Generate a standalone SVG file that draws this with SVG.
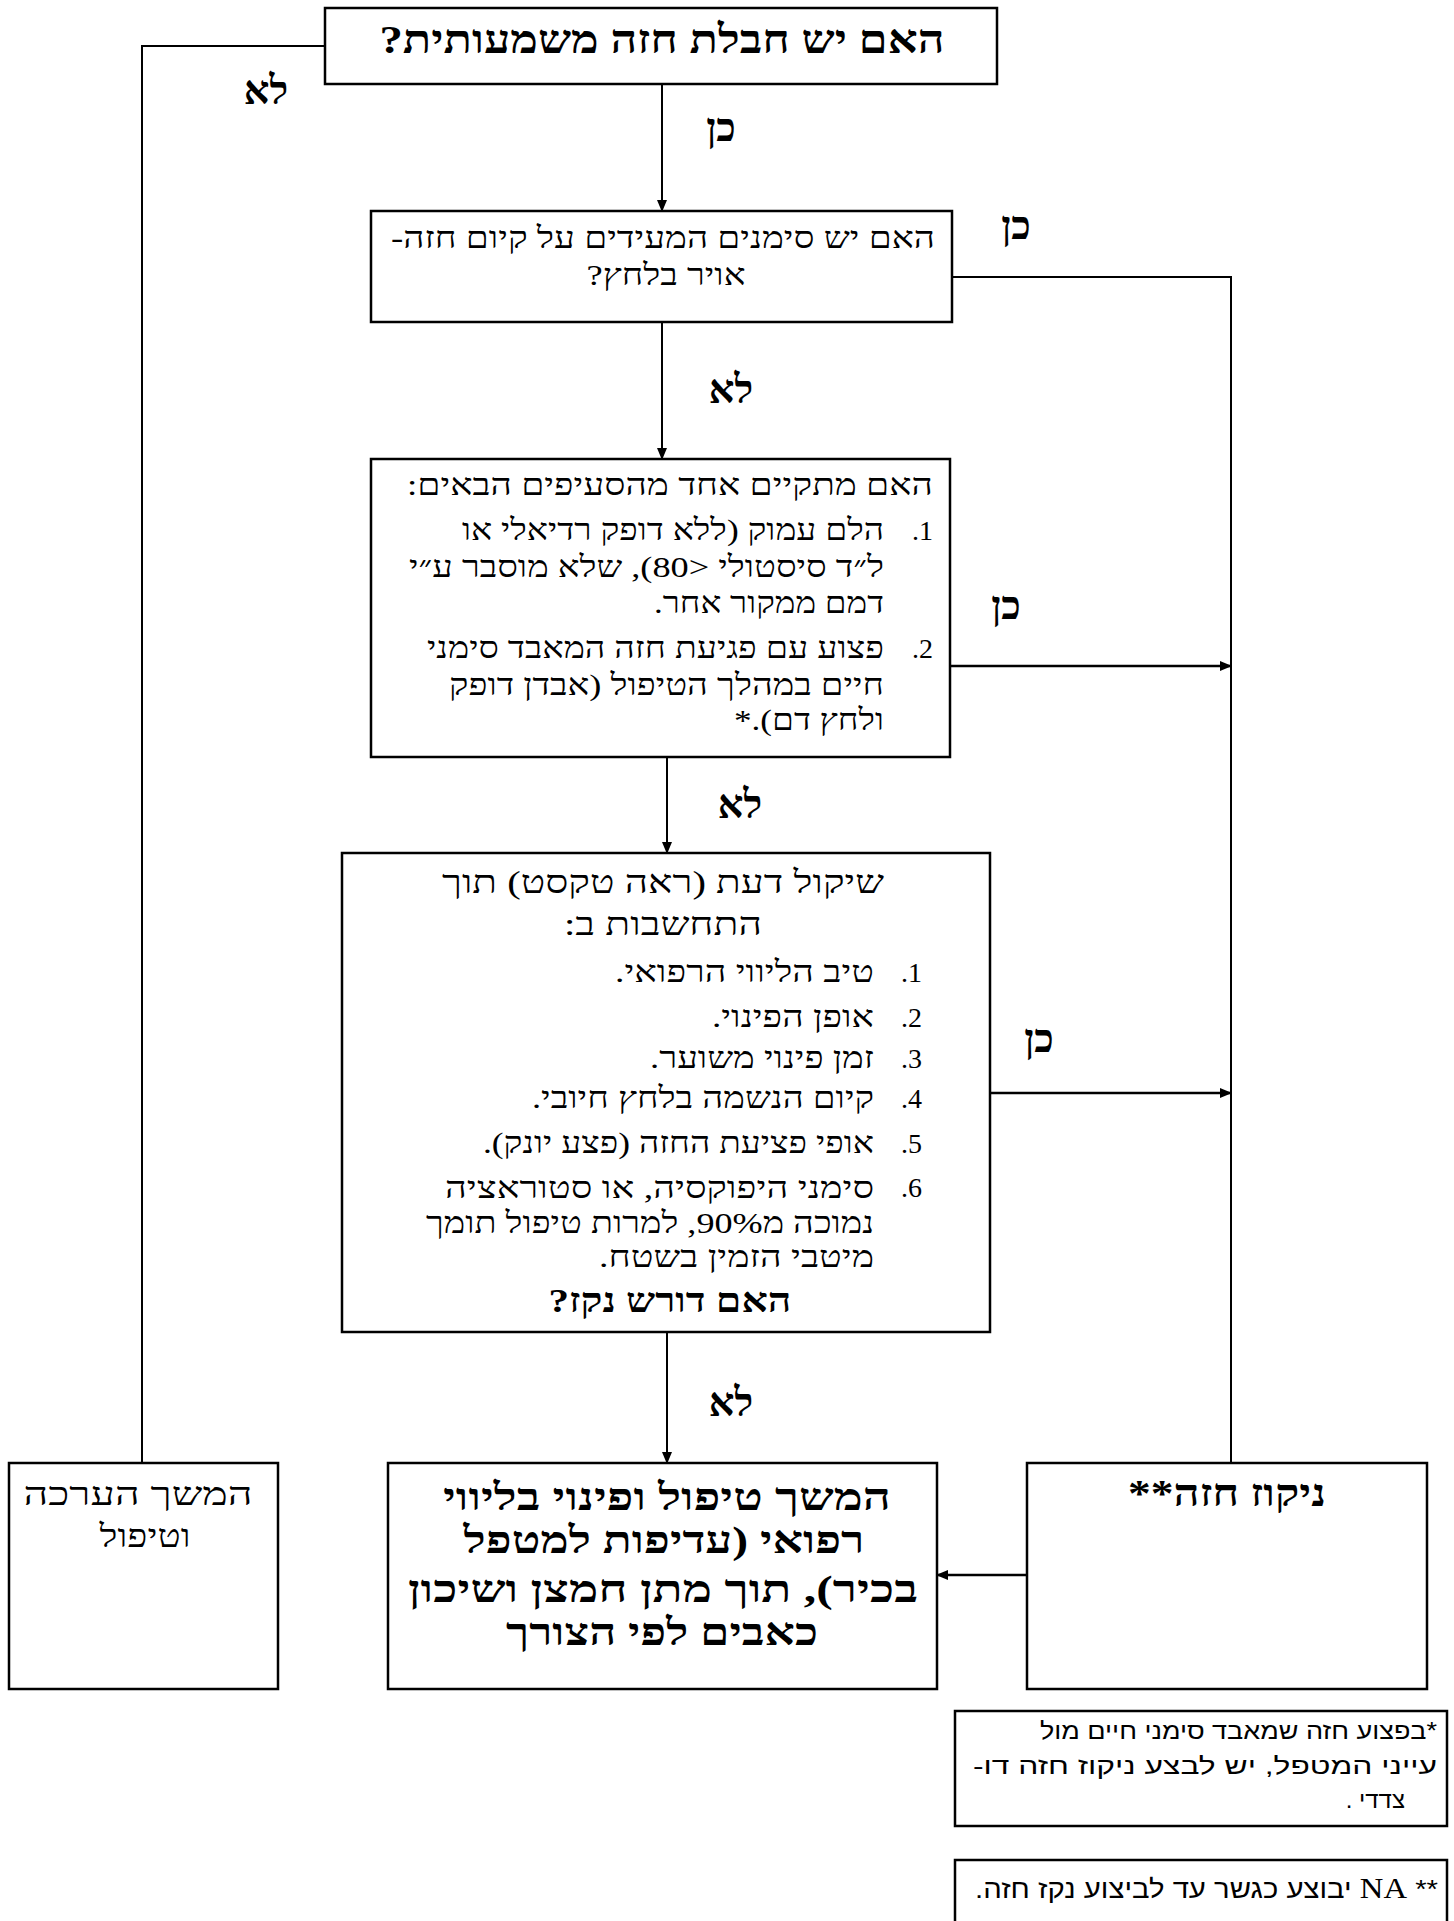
<svg xmlns="http://www.w3.org/2000/svg" width="1454" height="1921" viewBox="0 0 1454 1921">
<style>
.box{fill:#fff;stroke:#000;stroke-width:2.5}
.con{fill:none;stroke:#000;stroke-width:2}
text{fill:#000;direction:rtl}
.r{font-family:"Liberation Serif","DejaVu Serif",serif;font-size:30px}
.b{font-family:"Liberation Serif","DejaVu Serif",serif;font-size:38px;font-weight:bold}
.lb{font-family:"Liberation Serif","DejaVu Serif",serif;font-size:40px;font-weight:bold}
.s{font-family:"Liberation Sans","DejaVu Sans",sans-serif;font-size:24px}
.n{font-family:"Liberation Serif",serif;font-size:28px}
</style>
<defs>
<marker id="ah" markerWidth="12" markerHeight="10" refX="11" refY="5" orient="auto" markerUnits="userSpaceOnUse">
<path d="M0,0 L12,5 L0,10 Z" fill="#000"/>
</marker>
</defs>
<rect width="1454" height="1921" fill="#fff"/>

<g id="connectors">
<path class="con" d="M325,46 H142 V1478" marker-end="url(#ah)"/>
<path class="con" d="M662,84 V211" marker-end="url(#ah)"/>
<path class="con" d="M952,277 H1231 V1479" marker-end="url(#ah)"/>
<path class="con" d="M662,322 V459" marker-end="url(#ah)"/>
<path class="con" d="M950,666 H1231" marker-end="url(#ah)" style="stroke-width:2.5"/>
<path class="con" d="M667,757 V853" marker-end="url(#ah)"/>
<path class="con" d="M990,1093 H1231" marker-end="url(#ah)" style="stroke-width:2.5"/>
<path class="con" d="M667,1332 V1463" marker-end="url(#ah)"/>
<path class="con" d="M1027,1575 H937" marker-end="url(#ah)" style="stroke-width:2.5"/>
<text class="lb" x="266" y="104" text-anchor="middle">לא</text>
<text class="lb" x="721" y="141" text-anchor="middle">כן</text>
<text class="lb" x="1016" y="239" text-anchor="middle">כן</text>
<text class="lb" x="731" y="403" text-anchor="middle">לא</text>
<text class="lb" x="1006" y="619" text-anchor="middle">כן</text>
<text class="lb" x="740" y="818" text-anchor="middle">לא</text>
<text class="lb" x="1039" y="1052" text-anchor="middle">כן</text>
<text class="lb" x="731" y="1416" text-anchor="middle">לא</text>
</g>

<g id="q1">
<rect class="box" x="325" y="8" width="672" height="76"/>
<text class="b" x="662" y="53" text-anchor="middle" textLength="565" lengthAdjust="spacingAndGlyphs" style="font-size:40px">האם יש חבלת חזה משמעותית?</text>
</g>

<g id="q2">
<rect class="box" x="371" y="211" width="581" height="111"/>
<text class="r" x="663" y="248" text-anchor="middle" textLength="544" lengthAdjust="spacingAndGlyphs">האם יש סימנים המעידים על קיום חזה-</text>
<text class="r" x="666" y="285" text-anchor="middle" textLength="159" lengthAdjust="spacingAndGlyphs">אויר בלחץ?</text>
</g>

<g id="q3">
<rect class="box" x="371" y="459" width="579" height="298"/>
<text class="r" x="933" y="495" textLength="526" lengthAdjust="spacingAndGlyphs">האם מתקיים אחד מהסעיפים הבאים:</text>
<text class="n" x="933" y="540">1.</text>
<text class="r" x="884" y="540" textLength="422" lengthAdjust="spacingAndGlyphs">הלם עמוק (ללא דופק רדיאלי או</text>
<text class="r" x="884" y="577" textLength="475" lengthAdjust="spacingAndGlyphs">ל״ד סיסטולי &lt;80), שלא מוסבר ע״י</text>
<text class="r" x="884" y="613" textLength="230" lengthAdjust="spacingAndGlyphs">דמם ממקור אחר.</text>
<text class="n" x="933" y="658">2.</text>
<text class="r" x="884" y="658" textLength="457" lengthAdjust="spacingAndGlyphs">פצוע עם פגיעת  חזה המאבד סימני</text>
<text class="r" x="884" y="695" textLength="435" lengthAdjust="spacingAndGlyphs">חיים במהלך הטיפול (אבדן דופק</text>
<text class="r" x="884" y="730" textLength="150" lengthAdjust="spacingAndGlyphs">ולחץ דם).*</text>
</g>

<g id="q4">
<rect class="box" x="342" y="853" width="648" height="479"/>
<text class="r" x="663" y="893" text-anchor="middle" textLength="442" lengthAdjust="spacingAndGlyphs" style="font-size:32px">שיקול דעת (ראה טקסט) תוך</text>
<text class="r" x="663" y="935" text-anchor="middle" textLength="198" lengthAdjust="spacingAndGlyphs" style="font-size:32px">התחשבות ב:</text>
<text class="n" x="922" y="982">1.</text>
<text class="r" x="874" y="982" textLength="259" lengthAdjust="spacingAndGlyphs">טיב הליווי הרפואי.</text>
<text class="n" x="922" y="1027">2.</text>
<text class="r" x="874" y="1027" textLength="162" lengthAdjust="spacingAndGlyphs">אופן הפינוי.</text>
<text class="n" x="922" y="1068">3.</text>
<text class="r" x="874" y="1068" textLength="224" lengthAdjust="spacingAndGlyphs">זמן פינוי משוער.</text>
<text class="n" x="922" y="1108">4.</text>
<text class="r" x="874" y="1108" textLength="342" lengthAdjust="spacingAndGlyphs">קיום הנשמה בלחץ חיובי.</text>
<text class="n" x="922" y="1153">5.</text>
<text class="r" x="874" y="1153" textLength="391" lengthAdjust="spacingAndGlyphs">אופי פציעת החזה (פצע יונק).</text>
<text class="n" x="922" y="1197">6.</text>
<text class="r" x="874" y="1198" textLength="429" lengthAdjust="spacingAndGlyphs">סימני היפוקסיה, או סטוראציה</text>
<text class="r" x="874" y="1233" textLength="448" lengthAdjust="spacingAndGlyphs">נמוכה מ90%, למרות טיפול תומך</text>
<text class="r" x="874" y="1267" textLength="275" lengthAdjust="spacingAndGlyphs">מיטבי הזמין בשטח.</text>
<text class="b" x="670" y="1312" text-anchor="middle" textLength="243" lengthAdjust="spacingAndGlyphs" style="font-size:34px">האם דורש נקז?</text>
</g>

<g id="continue-eval">
<rect class="box" x="9" y="1463" width="269" height="226"/>
<text class="r" x="138" y="1505" text-anchor="middle" textLength="229" lengthAdjust="spacingAndGlyphs" style="font-size:32px">המשך הערכה</text>
<text class="r" x="145" y="1547" text-anchor="middle" textLength="91" lengthAdjust="spacingAndGlyphs" style="font-size:32px">וטיפול</text>
</g>

<g id="continue-evac">
<rect class="box" x="388" y="1463" width="549" height="226"/>
<text class="b" x="667" y="1510" text-anchor="middle" textLength="448" lengthAdjust="spacingAndGlyphs">המשך טיפול ופינוי בליווי</text>
<text class="b" x="664" y="1553" text-anchor="middle" textLength="401" lengthAdjust="spacingAndGlyphs">רפואי (עדיפות למטפל</text>
<text class="b" x="663" y="1602" text-anchor="middle" textLength="510" lengthAdjust="spacingAndGlyphs">בכיר), תוך מתן חמצן ושיכון</text>
<text class="b" x="662" y="1645" text-anchor="middle" textLength="312" lengthAdjust="spacingAndGlyphs">כאבים לפי הצורך</text>
</g>

<g id="chest-drain">
<rect class="box" x="1027" y="1463" width="400" height="226"/>
<text class="b" x="1227" y="1506" text-anchor="middle" textLength="198" lengthAdjust="spacingAndGlyphs">ניקוז חזה**</text>
</g>

<g id="note1">
<rect class="box" x="955" y="1711" width="492" height="115"/>
<text class="s" x="1437" y="1739" textLength="397" lengthAdjust="spacingAndGlyphs">*בפצוע חזה שמאבד סימני חיים מול</text>
<text class="s" x="1437" y="1774" textLength="464" lengthAdjust="spacingAndGlyphs">עייני המטפל,  יש לבצע ניקוז חזה דו-</text>
<text class="s" x="1405" y="1808">צדדי .</text>
</g>

<g id="note2">
<rect class="box" x="955" y="1860" width="492" height="80"/>
<text class="s" x="1438" y="1898" textLength="463" lengthAdjust="spacingAndGlyphs" style="font-size:26px">** <tspan style="font-family:'Liberation Serif',serif;font-size:29px">NA</tspan> יבוצע כגשר עד לביצוע נקז חזה.</text>
</g>
</svg>
